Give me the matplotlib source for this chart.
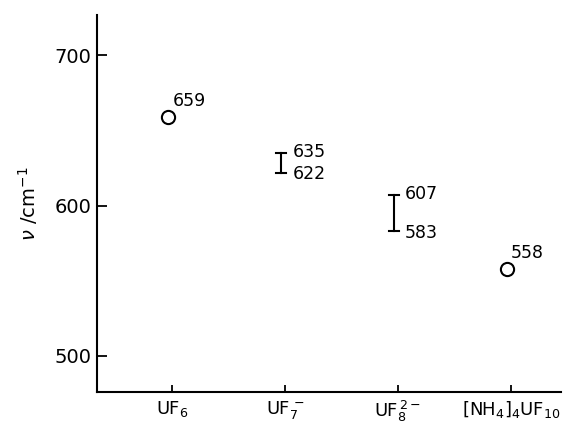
import matplotlib
matplotlib.use("Agg")
import matplotlib.pyplot as plt

# data
compounds = ['UF$_6$', 'UF$_7^{\\,-}$', 'UF$_8^{\\,2-}$', '[NH$_4$]$_4$UF$_{10}$']
single_x = [1, 4]
single_val = [659, 558]
range_x = [2, 3]
range_hi = [635, 607]
range_lo = [622, 583]

yticks = [500, 600, 700]

plt.rcParams['font.family'] = 'DejaVu Sans'
fig = plt.figure(figsize=(5.7, 4.26), dpi=100)
ax = fig.add_axes([0.170, 0.080, 0.815, 0.885])

off = -0.035  # marks sit a bit left of the ticks

# open circles
ax.plot([x + off for x in single_x], single_val, 'o', mfc='white', mec='black',
        mew=1.5, ms=9.5, ls='none')
for x, v in zip(single_x, single_val):
    ax.annotate(str(v), (x + off, v), xytext=(3, 5), textcoords='offset points',
                ha='left', va='bottom', fontsize=12.5)

# range bars
for x, hi, lo in zip(range_x, range_hi, range_lo):
    xm = x + off
    ax.plot([xm, xm], [lo, hi], color='black', lw=1.5)
    ax.plot([xm - 0.045, xm + 0.045], [hi, hi], color='black', lw=1.5)
    ax.plot([xm - 0.045, xm + 0.045], [lo, lo], color='black', lw=1.5)
    ax.annotate(str(hi), (xm, hi), xytext=(8, 1), textcoords='offset points',
                ha='left', va='center', fontsize=12.5)
    ax.annotate(str(lo), (xm, lo), xytext=(8, -1), textcoords='offset points',
                ha='left', va='center', fontsize=12.5)

ax.set_xlim(0.33, 4.45)
ax.set_ylim(476, 727)
ax.set_yticks(yticks)
ax.set_xticks([1, 2, 3, 4])
ax.set_xticklabels(compounds)
ax.tick_params(axis='y', direction='in', length=7, width=1.3, labelsize=14, pad=4)
ax.tick_params(axis='x', direction='in', length=5, width=1.3, labelsize=13, pad=5)
ax.spines['right'].set_visible(False)
ax.spines['top'].set_visible(False)
ax.spines['left'].set_linewidth(1.5)
ax.spines['bottom'].set_linewidth(1.5)
ax.set_ylabel('$\\nu$ /cm$^{-1}$', fontsize=14, labelpad=10)

fig.savefig('out.png', dpi=100)
